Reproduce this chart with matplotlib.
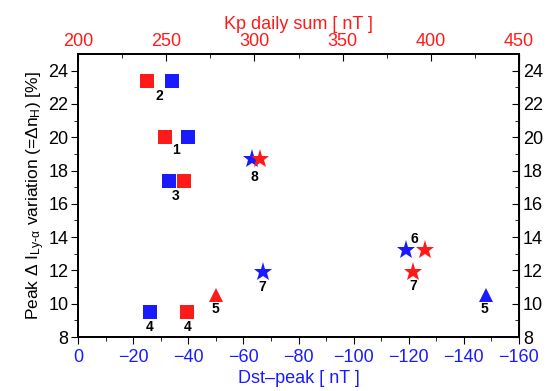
import matplotlib.pyplot as plt

plt.rcParams['font.family'] = ['Liberation Sans', 'DejaVu Sans']
plt.rcParams['mathtext.fontset'] = 'custom'
plt.rcParams['mathtext.rm'] = 'Liberation Sans'
plt.rcParams['mathtext.it'] = 'Liberation Sans'

# event data: Dst peak (blue, bottom axis) and Kp daily sum (red, top axis)
peak_var = [20.0, 23.4, 17.4, 9.5, 10.5, 13.2, 11.9, 18.7]
dst_peak = [-40, -34, -33, -26, -148, -119, -67, -63]
kp_sum = [249, 239, 260, 262, 278, 397, 390, 303]
event_ids = ['1', '2', '3', '4', '5', '6', '7', '8']
markers = ['s', 's', 's', 's', '^', '*', '*', '*']

# label offsets (points) relative to the marker they sit under
blue_lbl_off = {'1': (-9, -9), '2': (-9, -11), '3': (5, -11), '4': (0, -11),
                '5': (-1, -10), '6': (6, 8), '7': (0, -11), '8': (2, -13)}
red_lbl = {'4': (0, -11), '5': (0, -10), '7': (0, -10)}

blue = '#1a1aff'
red = '#ff1a1a'

fig = plt.figure(figsize=(5.58, 3.91), dpi=100)
ax = fig.add_axes([0.14, 0.138, 0.79, 0.724])
ax_top = ax.twiny()

for i in range(len(peak_var)):
    ms = 14 if markers[i] == '*' else 10.5
    ax.plot(dst_peak[i], peak_var[i], marker=markers[i], color=blue,
            markersize=ms, linestyle='none', markeredgewidth=0)
    ax_top.plot(kp_sum[i], peak_var[i], marker=markers[i], color=red,
                markersize=ms, linestyle='none', markeredgewidth=0)

for i, eid in enumerate(event_ids):
    ax.annotate(eid, (dst_peak[i], peak_var[i]), xytext=blue_lbl_off[eid],
                textcoords='offset points', ha='center', va='center',
                fontsize=10, fontweight='bold')
    if eid in red_lbl:
        ax_top.annotate(eid, (kp_sum[i], peak_var[i]), xytext=red_lbl[eid],
                        textcoords='offset points', ha='center', va='center',
                        fontsize=10, fontweight='bold')

ax.set_xlim(0, -160)
ax.set_ylim(8, 25)
ax.set_xticks(range(0, -161, -20))
ax.set_xticks(range(-10, -160, -20), minor=True)
ax.set_yticks(range(8, 25, 2))
ax.set_yticks(range(9, 25, 2), minor=True)
ax.tick_params(axis='x', colors=blue, labelsize=13, direction='out', length=5)
ax.tick_params(axis='x', which='minor', colors='black', length=3)
ax.tick_params(axis='x', which='major', color='black')
ax.tick_params(axis='y', labelsize=13, direction='out', length=5, pad=2)
ax.tick_params(axis='y', which='minor', length=3)
ax.set_xlabel('Dst\u2013peak [ nT ]', color=blue, fontsize=13, labelpad=3)
ax.set_ylabel(r'Peak $\Delta$ I$_{Ly\text{-}\alpha}$ variation (=$\Delta$n$_H$) [%]',
              fontsize=12.5, labelpad=1)

ax_top.set_xlim(200, 450)
ax_top.set_xticks(range(200, 451, 50))
ax_top.set_xticks(range(225, 450, 50), minor=True)
ax_top.tick_params(axis='x', labelcolor=red, labelsize=13, direction='in', length=5, pad=3)
ax_top.tick_params(axis='x', which='minor', direction='in', length=3)
ax_top.set_xlabel('Kp daily sum [ nT ]', color=red, fontsize=13, labelpad=3)

ax_r = ax.secondary_yaxis('right')
ax_r.set_yticks(range(8, 25, 2))
ax_r.set_yticks(range(9, 25, 2), minor=True)
ax_r.tick_params(axis='y', labelsize=13, direction='in', length=5, pad=3)
ax_r.tick_params(axis='y', which='minor', direction='in', length=3)

for a in (ax, ax_top):
    for s in a.spines.values():
        s.set_linewidth(1.3)

fig.savefig('out.png', dpi=100)
